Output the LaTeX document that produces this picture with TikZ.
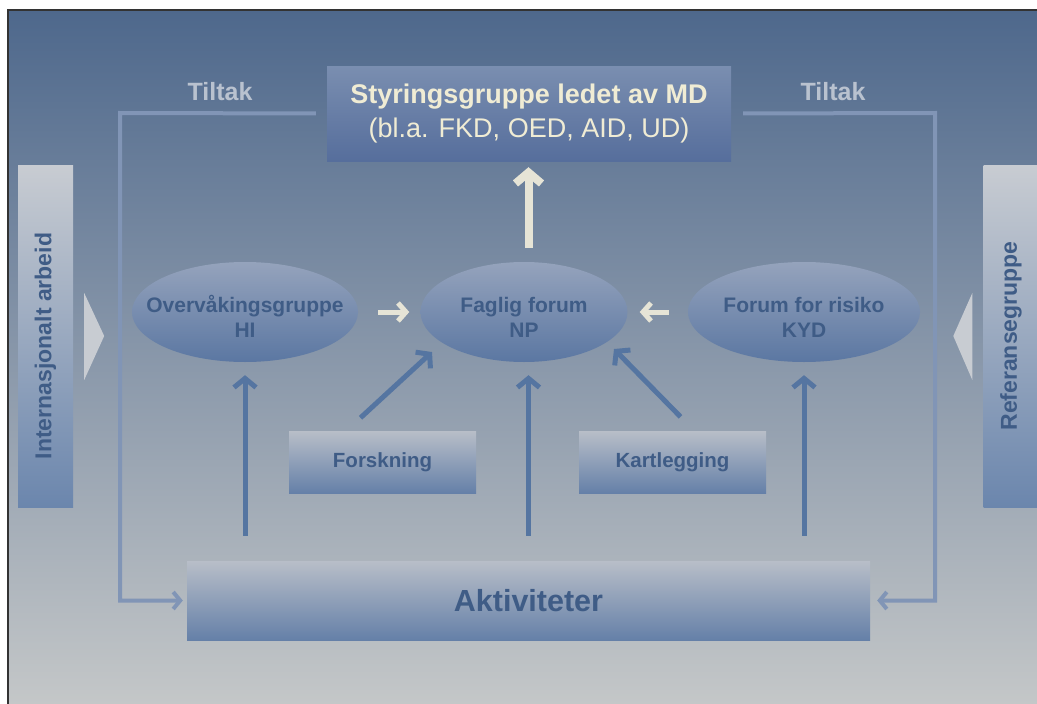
\documentclass[tikz,border=0pt]{standalone}
\usepackage{fontspec}
\setmainfont{Liberation Sans}
\usepackage{graphicx}
\usetikzlibrary{arrows.meta}
\usetikzlibrary{shapes.geometric}

\definecolor{bgtop}{HTML}{4E688C}
\definecolor{bgmid}{HTML}{8696B2}
\definecolor{bgbot}{HTML}{C4C7C8}
\definecolor{boxtop}{HTML}{B8BEC8}
\definecolor{boxbot}{HTML}{6580A8}
\definecolor{elltop}{HTML}{95A3BC}
\definecolor{ellbot}{HTML}{5B77A2}
\definecolor{stytop}{HTML}{7A8EB0}
\definecolor{stybot}{HTML}{566E9C}
\definecolor{bartop}{HTML}{C8CCD2}
\definecolor{barbot}{HTML}{6B86AD}
\definecolor{boxtext}{HTML}{3F5C86}
\definecolor{arrowblue}{HTML}{5575A1}
\definecolor{lightarrow}{HTML}{E6E4D6}
\definecolor{cream}{HTML}{F0ECD4}
\definecolor{tiltext}{HTML}{B9C2CF}
\definecolor{tilline}{HTML}{8195B6}

% centred line of zero width, so that the ellipse keeps its size
\newcommand{\ellline}[1]{\makebox[0pt]{#1}}

\begin{document}
\begin{tikzpicture}[x=1pt,y=-1pt,
    boxstyle/.style={rectangle,top color=boxtop,bottom color=boxbot,text=boxtext,
        inner sep=0pt,font=\bfseries\fontsize{20.5}{24}\selectfont},
    ellstyle/.style={ellipse,top color=elltop,bottom color=ellbot,text=boxtext,
        minimum height=100pt,inner sep=0pt,align=center,
        font=\bfseries\fontsize{21}{25}\selectfont},
    barstyle/.style={rectangle,top color=bartop,bottom color=barbot,text=boxtext,
        minimum width=55pt,minimum height=342pt,inner sep=0pt,
        font=\bfseries\fontsize{23}{25}\selectfont},
    upstyle/.style={draw=arrowblue,line width=5pt,
        -{Straight Barb[length=9pt,width=22pt]}},
    lightstyle/.style={draw=lightarrow,line width=5pt,
        -{Straight Barb[length=8pt,width=18pt]}},
    tilstyle/.style={draw=tilline,line width=4pt,
        -{Straight Barb[length=7pt,width=17pt]}},
    tiltak/.style={text=tiltext,font=\bfseries\fontsize{25}{27}\selectfont}]
    \useasboundingbox (0,0) rectangle (1037,704);
    \clip (0,0) rectangle (1037,704);
    % background and frame
    \fill[white] (0,0) rectangle (1037,704);
    \shade[top color=bgtop,middle color=bgmid,bottom color=bgbot] (8,10) rectangle (1037,704);
    \draw[line width=2pt,black!80] (8,704) -- (8,10) -- (1037,10);
    % nodes
    \node[rectangle,top color=stytop,bottom color=stybot,text=cream,minimum width=404pt,
        minimum height=95pt,inner sep=0pt,align=center,font=\fontsize{27}{34}\selectfont]
        (sty) at (529,113.5) {\textbf{Styringsgruppe ledet av MD}\\(bl.a. FKD, OED, AID, UD)};
    \node[ellstyle,minimum width=226pt] (ovg) at (245,312)
        {\rule{0pt}{26pt}\ellline{Overvåkingsgruppe}\\\ellline{HI}};
    \node[ellstyle,minimum width=207pt] (fag) at (524,312)
        {\rule{0pt}{26pt}\ellline{Faglig forum}\\\ellline{NP}};
    \node[ellstyle,minimum width=232pt] (kyd) at (804,312)
        {\rule{0pt}{26pt}\ellline{Forum for risiko}\\\ellline{KYD}};
    \node[boxstyle,minimum width=187pt,minimum height=62pt] (forsk) at (382.5,462) {Forskning};
    \node[boxstyle,minimum width=187pt,minimum height=62pt] (kart) at (672.5,462) {Kartlegging};
    \node[boxstyle,minimum width=683pt,minimum height=79pt,
        font=\bfseries\fontsize{30.5}{32}\selectfont] (akt) at (528.5,600.5) {Aktiviteter};
    \node[barstyle] (intl) at (45.5,336) {\rotatebox{90}{Internasjonalt arbeid\hspace*{20pt}}};
    \node[barstyle] (ref) at (1011,336) {\rotatebox{90}{Referansegruppe}};
    \node[tiltak] (tilv) at (220,92) {Tiltak};
    \node[tiltak] (tilh) at (833,92) {Tiltak};
    % pointers at the side bars
    \fill[bartop] ([shift={(11,-43)}]intl.east) -- ([shift={(31,0)}]intl.east)
        -- ([shift={(11,44)}]intl.east) -- cycle;
    \fill[bartop] ([shift={(-11,-43)}]ref.west) -- ([shift={(-30,0)}]ref.west)
        -- ([shift={(-11,44)}]ref.west) -- cycle;
    % Tiltak lines
    \coordinate (tl) at (120,113);
    \coordinate (tr) at (935,113);
    \draw[tilstyle,shorten <=11pt,shorten >=4pt] (sty.west) -- (tl) |- (akt.west);
    \draw[tilstyle,shorten <=12pt,shorten >=7pt] (sty.east) -- (tr) |- (akt.east);
    % arrows
    \draw[draw=lightarrow,line width=8pt,-{Straight Barb[length=11pt,width=26pt]},
        shorten <=14pt,shorten >=6pt] (fag.north -| akt.north) -- (sty.south -| akt.north);
    \draw[lightstyle,shorten <=20pt,shorten >=11pt] (ovg.east) -- (fag.west);
    \draw[lightstyle,shorten <=19pt,shorten >=12pt] (kyd.west) -- (fag.east);
    \draw[upstyle,shorten <=25pt,shorten >=13pt] (ovg.south |- akt.north) -- (ovg.south);
    \draw[upstyle,shorten <=25pt,shorten >=13pt] (akt.north) -- (akt.north |- fag.south);
    \draw[upstyle,shorten <=25pt,shorten >=13pt] (kyd.south |- akt.north) -- (kyd.south);
    \coordinate (fagsw) at ([shift={(-92,40)}]fag.center);
    \coordinate (fagse) at ([shift={(90,37)}]fag.center);
    \draw[upstyle] ([shift={(-22,-13)}]forsk.north) -- (fagsw);
    \draw[upstyle] ([shift={(8,-14)}]kart.north) -- (fagse);
\end{tikzpicture}
\end{document}
